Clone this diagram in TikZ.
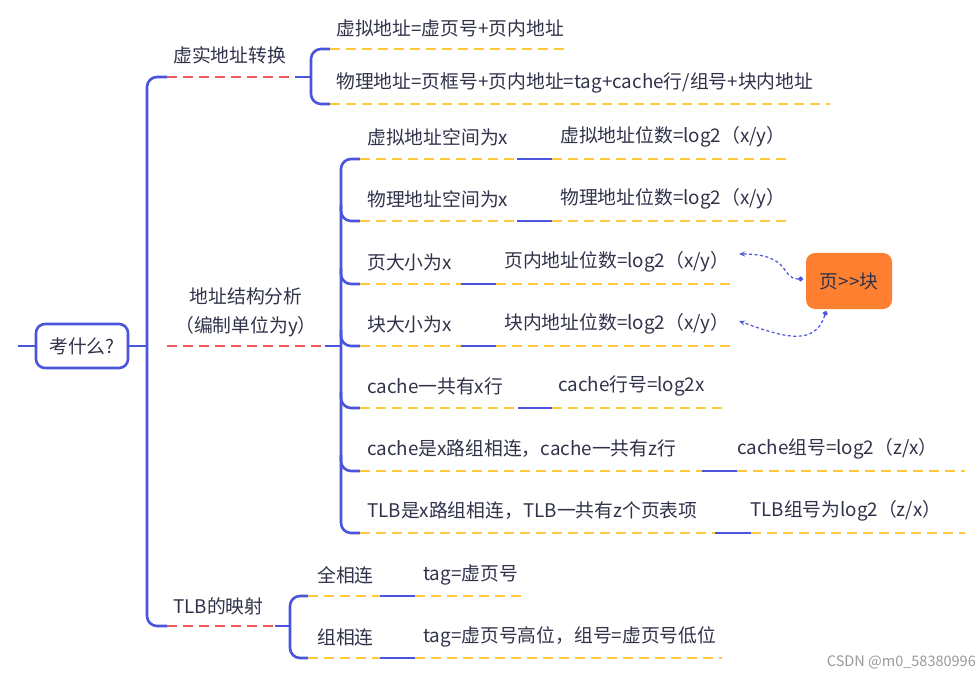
\documentclass[tikz,border=0pt]{standalone}
\usepackage{fontspec}
\setmainfont{Noto Sans CJK SC}
\usetikzlibrary{arrows.meta}
\definecolor{txt}{HTML}{30324A}
\definecolor{blu}{HTML}{4A55DB}
\definecolor{redd}{HTML}{F2575B}
\definecolor{yel}{HTML}{FFC93C}
\definecolor{org}{HTML}{FF7F30}
\begin{document}
\begin{tikzpicture}[x=1pt,y=-1pt,
  lbl/.style={anchor=west,inner sep=0pt,text=txt,font=\fontsize{18.8}{22}\selectfont},
  trunk/.style={draw=blu,line width=2.6pt,rounded corners=10pt},
  seg/.style={draw=blu,line width=2.6pt},
  rdash/.style={draw=redd,line width=1.7pt,dash pattern=on 10pt off 6pt},
  ydash/.style={draw=yel,line width=1.7pt,dash pattern=on 10pt off 6pt},
  link/.style={draw=blu,line width=1.2pt,dash pattern=on 3pt off 2.5pt,{Circle[length=5pt]}-{Stealth[length=6pt,width=5pt]}},
]
\path[use as bounding box] (0,0) rectangle (980,679);

% root
\node[draw=blu,line width=2.6pt,rounded corners=9pt,minimum width=92pt,minimum height=44pt,inner sep=0pt,text=txt,font=\fontsize{18.8}{22}\selectfont] (root) at (82,346) {考什么?};
\coordinate (stub) at (18,346);
\coordinate (tj) at (147,346);
\draw[seg] (stub) -- (root.west);
\draw[seg] (root.east) -- (tj);
\draw[trunk] (167,77) -- (147,77) -- (147,626) -- (167,626);

% branch 1
\node[lbl] (b1) at (173,55) {虚实地址转换};
\coordinate (b1a) at (167,77);
\coordinate (b1b) at (295,77);
\coordinate (b1c) at (311,77);
\draw[rdash] (b1a) -- (b1b);
\draw[seg] (b1b) -- (b1c);
\draw[trunk] (330,49) -- (311,49) -- (311,104) -- (330,104);
\draw[ydash] (330,49) -- (567,49);
\draw[ydash] (330,104) -- (830,104);
\node[lbl] (b1t1) at (336,28) {虚拟地址=虚页号+页内地址};
\node[lbl] (b1t2) at (336,83) {物理地址=页框号+页内地址=tag+cache行/组号+块内地址};

% branch 2
\node[lbl,anchor=center,align=center,font=\fontsize{18.8}{29}\selectfont] (b2) at (246,312) {地址结构分析\\（编制单位为y）};
\coordinate (b2a) at (167,346);
\coordinate (b2b) at (325,346);
\coordinate (b2c) at (341,346);
\draw[rdash] (b2a) -- (b2b);
\draw[seg] (b2b) -- (b2c);
\draw[trunk] (360,159) -- (341,159) -- (341,533) -- (360,533);
\foreach \yy in {221,284,346,408,471}{
  \draw[trunk] (341,\yy-16) -- (341,\yy) -- (360,\yy);
}
% rows: y, left text, blue start, blue end, right text x, yellow end
\foreach \yy/\ta/\bs/\be/\tx/\ye/\tb/\nm in {
  159/{虚拟地址空间为x}/517/552/560/790/{虚拟地址位数=log2（x/y）}/r1,
  221/{物理地址空间为x}/517/552/560/790/{物理地址位数=log2（x/y）}/r2,
  284/{页大小为x}/461/496/504/733/{页内地址位数=log2（x/y）}/r3,
  346/{块大小为x}/461/496/504/733/{块内地址位数=log2（x/y）}/r4,
  408/{cache一共有x行}/518/552/558/727/{cache行号=log2x}/r5,
  471/{cache是x路组相连，cache一共有z行}/702/737/737/965/{cache组号=log2（z/x）}/r6,
  533/{TLB是x路组相连，TLB一共有z个页表项}/715/751/750/965/{TLB组号为log2（z/x）}/r7}{
  \node[lbl] (\nm a) at (367,\yy-22) {\ta};
  \node[lbl] (\nm b) at (\tx,\yy-22) {\tb};
  \draw[ydash] (360,\yy) -- (\bs,\yy);
  \draw[seg] (\bs,\yy) -- (\be,\yy);
  \draw[ydash] (\be,\yy) -- (\ye,\yy);
}

% branch 3
\node[lbl] (b3) at (173,606) {TLB的映射};
\coordinate (b3a) at (167,626);
\coordinate (b3b) at (275,626);
\coordinate (b3c) at (290,626);
\draw[rdash] (b3a) -- (b3b);
\draw[seg] (b3b) -- (b3c);
\draw[trunk] (308,596) -- (290,596) -- (290,658) -- (308,658);
\foreach \yy/\ta/\ye/\tb/\nm in {596/{全相连}/522/{tag=虚页号}/s1, 658/{组相连}/722/{tag=虚页号高位，组号=虚页号低位}/s2}{
  \node[lbl] (\nm a) at (317,\yy-21) {\ta};
  \node[lbl] (\nm b) at (423,\yy-21) {\tb};
  \draw[ydash] (308,\yy) -- (380,\yy);
  \draw[seg] (380,\yy) -- (415,\yy);
  \draw[ydash] (415,\yy) -- (\ye,\yy);
}

% callout
\node[fill=org,rounded corners=9pt,minimum width=86pt,minimum height=56pt,inner sep=0pt,text=txt,font=\fontsize{18.8}{22}\selectfont] (pb) at (849,281) {页>\kern0pt>块};
\coordinate (p1) at (803,279);
\coordinate (p2) at (826,311);
\coordinate (e1) at (739,254);
\coordinate (e2) at (739,321);
\draw[link] (p1) .. controls (780,279) and (792,254) .. (e1);
\draw[link] (p2) .. controls (815,348) and (780,336) .. (e2);

% watermark
\node[anchor=east,inner sep=0pt,text=black!40,font=\fontsize{14.5}{16}\selectfont] (wm) at (976,662) {CSDN @m0\_58380996};
\end{tikzpicture}
\end{document}
